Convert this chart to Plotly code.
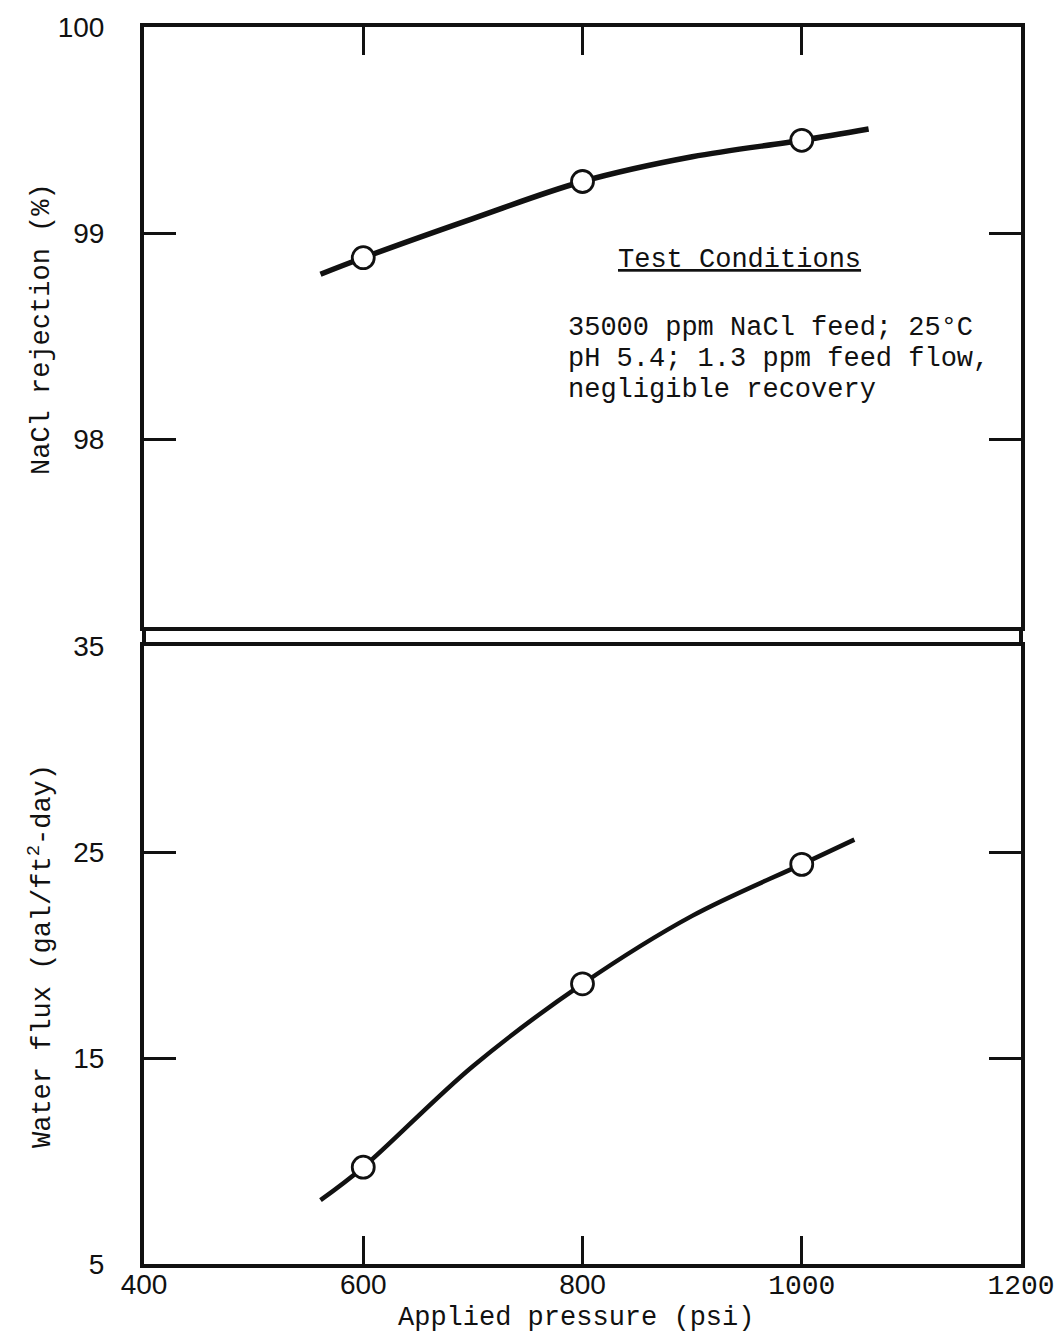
import plotly.graph_objects as go

# Smoothed curves through the measurements (applied pressure in psi)
rej_curve_psi = [561, 600, 700, 800, 900, 1000, 1061]
rej_curve_pct = [98.80, 98.88, 99.07, 99.25, 99.37, 99.45, 99.505]

flux_curve_psi = [561, 600, 700, 800, 900, 1000, 1048]
flux_curve_val = [8.1, 9.7, 14.6, 18.6, 21.9, 24.4, 25.6]

# Measured points
meas_psi = [600, 800, 1000]
meas_rejection = [98.88, 99.25, 99.45]
meas_flux = [9.7, 18.6, 24.4]

x_tickvals = [400, 600, 800, 1000, 1200]
x_ticktext = ["400", "600", "800",
              '<span style="font-family:Liberation Mono">1000</span>',
              '<span style="font-family:Liberation Mono">1200</span>']
rej_tickvals = [98, 99, 100]
flux_tickvals = [5, 15, 25, 35]

MONO = "Liberation Mono, DejaVu Sans Mono, monospace"
SANS = "Liberation Sans, Arial, sans-serif"
INK = "#111111"

LEFT, RIGHT, TOP, BOTTOM = 144, 1021, 27, 1264
W, H = 1057, 1342

fig = go.Figure()

# Upper panel: salt rejection
fig.add_trace(go.Scatter(x=rej_curve_psi, y=rej_curve_pct, mode="lines",
                         line=dict(color=INK, width=5.5, shape="spline"),
                         xaxis="x2", yaxis="y2", showlegend=False, hoverinfo="skip"))
fig.add_trace(go.Scatter(x=meas_psi, y=meas_rejection, mode="markers",
                         marker=dict(symbol="circle", size=22, color="white",
                                     line=dict(color=INK, width=2.8)),
                         xaxis="x2", yaxis="y2", showlegend=False))

# Lower panel: water flux
fig.add_trace(go.Scatter(x=flux_curve_psi, y=flux_curve_val, mode="lines",
                         line=dict(color=INK, width=4.5, shape="spline"),
                         xaxis="x", yaxis="y", showlegend=False, hoverinfo="skip"))
fig.add_trace(go.Scatter(x=meas_psi, y=meas_flux, mode="markers",
                         marker=dict(symbol="circle", size=22, color="white",
                                     line=dict(color=INK, width=2.8)),
                         xaxis="x", yaxis="y", showlegend=False))

H_TOTAL = float(BOTTOM - TOP)
lower_top = (BOTTOM - 646) / H_TOTAL
upper_bottom = (BOTTOM - 627) / H_TOTAL

axis_common = dict(showgrid=False, zeroline=False, showline=True, linecolor=INK,
                   linewidth=4, ticks="inside", tickcolor=INK, tickwidth=3,
                   automargin=False)

fig.update_layout(
    width=W, height=H,
    margin=dict(l=LEFT, r=W - RIGHT, t=TOP, b=H - BOTTOM, autoexpand=False),
    paper_bgcolor="white", plot_bgcolor="white",
    xaxis=dict(domain=[0, 1], anchor="y", range=[400, 1200],
               tickvals=x_tickvals, ticktext=x_ticktext, ticklen=28,
               mirror=True, ticklabelstandoff=-8,
               tickfont=dict(family=SANS, size=28, color=INK), **axis_common),
    yaxis=dict(domain=[0, lower_top], anchor="x", range=[5, 35],
               tickvals=flux_tickvals, ticklen=32, mirror="ticks",
               ticklabelstandoff=30,
               tickfont=dict(family=SANS, size=28, color=INK), **axis_common),
    xaxis2=dict(domain=[0, 1], anchor="y2", range=[400, 1200], side="top",
                tickvals=[600, 800, 1000], ticklen=28, showticklabels=False,
                mirror=True, **axis_common),
    yaxis2=dict(domain=[upper_bottom, 1], anchor="x2", range=[100 - 600 / 206, 100],
                tickvals=rej_tickvals, ticklen=32, mirror="ticks",
                ticklabelstandoff=30,
                tickfont=dict(family=SANS, size=28, color=INK), **axis_common),
)

# Connect the side borders across the axis break
for xp in (0, 1):
    fig.add_shape(type="line", xref="paper", yref="paper",
                  x0=xp, x1=xp, y0=lower_top, y1=upper_bottom,
                  line=dict(color=INK, width=4))

def px_x(p):
    return (p - LEFT) / float(RIGHT - LEFT)

def px_y(p):
    return (BOTTOM - p) / H_TOTAL

annotations = [
    dict(text="Applied pressure (psi)", x=px_x(576), y=px_y(1318),
         font=dict(family=MONO, size=27, color=INK)),
    dict(text="NaCl rejection (%)", x=px_x(42), y=px_y(329), textangle=-90,
         font=dict(family=MONO, size=27, color=INK)),
    dict(text="Water flux (gal/ft<sup>2</sup>-day)", x=px_x(40), y=px_y(956), textangle=-90,
         font=dict(family=MONO, size=27, color=INK)),
    dict(text="<u>Test Conditions</u>", x=px_x(739), y=px_y(260),
         font=dict(family=MONO, size=27, color=INK)),
]
for i, line in enumerate(["35000 ppm NaCl feed; 25°C",
                          "pH 5.4; 1.3 ppm feed flow,",
                          "negligible recovery"]):
    annotations.append(dict(text=line, x=px_x(566), y=px_y(328 + 31 * i),
                            xanchor="left",
                            font=dict(family=MONO, size=27, color=INK)))

for a in annotations:
    a.setdefault("xanchor", "center")
    a.update(xref="paper", yref="paper", yanchor="middle", showarrow=False)
fig.update_layout(annotations=annotations)

fig.write_html("out.html")
